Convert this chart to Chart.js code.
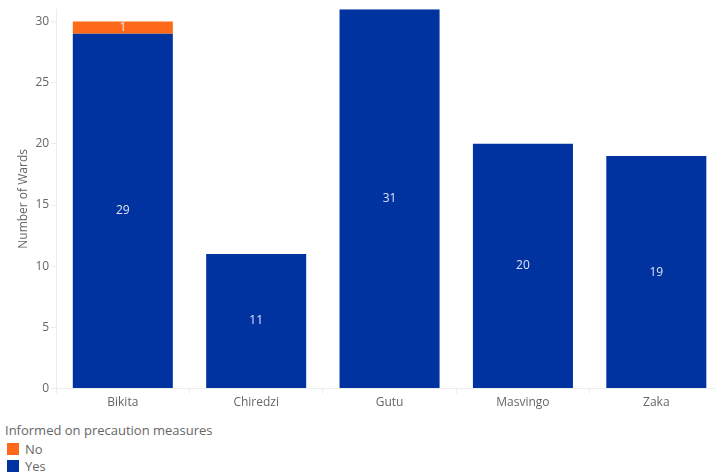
<!DOCTYPE html>
<html>
<head>
<meta charset="utf-8">
<script src="https://cdn.jsdelivr.net/npm/chart.js@4.4.0/dist/chart.umd.min.js"></script>
<style>
  html, body { margin: 0; padding: 0; background: #fff; overflow: hidden; }
  body { width: 715px; height: 475px; position: relative; font-family: 'Segoe UI', 'Open Sans', sans-serif; }
  #wrap { position: absolute; left: 0; top: 0; width: 723px; height: 412px; }
  #legend { position: absolute; left: 5px; top: 421px; color: #666; font-size: 13px; }
  #legend .title { margin-bottom: 0; height: 19px; }
  #legend .item { display: flex; align-items: center; height: 17px; }
  #legend .box { width: 12px; height: 12px; margin: 0 6px 0 2px; }
</style>
</head>
<body>
<div id="wrap"><canvas id="chart"></canvas></div>
<div id="legend"></div>
<script>
// Districts and ward counts
const districts = ['Bikita', 'Chiredzi', 'Gutu', 'Masvingo', 'Zaka'];
const yesWards = [29, 11, 31, 20, 19];
const noWards = [1, null, null, null, null];
const yTicks = [0, 5, 10, 15, 20, 25, 30];

const legendTitle = 'Informed on precaution measures';
const seriesNames = ['No', 'Yes'];
const seriesColors = ['#FF6A1A', '#0033A0'];

const fontFamily = "'Segoe UI', 'Open Sans', sans-serif";

// Labels in the middle of every segment
const barLabels = {
    id: 'barLabels',
    afterDatasetsDraw(chart) {
        const ctx = chart.ctx;
        ctx.save();
        ctx.font = '12px ' + fontFamily;
        ctx.fillStyle = '#dfe3f2';
        ctx.textAlign = 'center';
        ctx.textBaseline = 'middle';
        chart.data.datasets.forEach((ds, i) => {
            chart.getDatasetMeta(i).data.forEach((bar, j) => {
                const v = ds.data[j];
                if (v == null) return;
                const mid = (bar.y + bar.base) / 2;
                ctx.fillText(String(v), bar.x, mid);
            });
        });
        ctx.restore();
    }
};

new Chart(document.getElementById('chart'), {
    type: 'bar',
    data: {
        labels: districts,
        datasets: [
            { label: seriesNames[1], data: yesWards, backgroundColor: seriesColors[1], stack: 's' },
            { label: seriesNames[0], data: noWards, backgroundColor: seriesColors[0], stack: 's' }
        ]
    },
    options: {
        responsive: true,
        maintainAspectRatio: false,
        animation: false,
        layout: { padding: { top: 0, left: 16, right: 0, bottom: 0 } },
        datasets: { bar: { categoryPercentage: 0.75, barPercentage: 1 } },
        plugins: {
            legend: { display: false },
            tooltip: { enabled: false }
        },
        scales: {
            x: {
                stacked: true,
                ticks: { color: '#666', font: { family: fontFamily, size: 12 }, padding: 2 },
                grid: { drawOnChartArea: false, color: '#ececec', tickLength: 5 },
                border: { color: '#ececec' }
            },
            y: {
                stacked: true,
                min: 0,
                max: 31,
                afterBuildTicks(axis) {
                    axis.ticks = yTicks.map(v => ({ value: v }));
                },
                ticks: { color: '#666', font: { family: fontFamily, size: 12 }, padding: 2 },
                grid: { drawOnChartArea: false, color: '#ececec', tickLength: 5 },
                border: { color: '#ececec' },
                title: {
                    display: true,
                    text: 'Number of Wards',
                    color: '#666',
                    font: { family: fontFamily, size: 12 },
                    padding: { top: 0, bottom: 3 }
                }
            }
        }
    },
    plugins: [barLabels]
});

// Vertical legend like the original
const legend = document.getElementById('legend');
const t = document.createElement('div');
t.className = 'title';
t.textContent = legendTitle;
legend.appendChild(t);
seriesNames.forEach((name, i) => {
    const row = document.createElement('div');
    row.className = 'item';
    const box = document.createElement('span');
    box.className = 'box';
    box.style.background = seriesColors[i];
    const label = document.createElement('span');
    label.textContent = name;
    row.appendChild(box);
    row.appendChild(label);
    legend.appendChild(row);
});
</script>
</body>
</html>
